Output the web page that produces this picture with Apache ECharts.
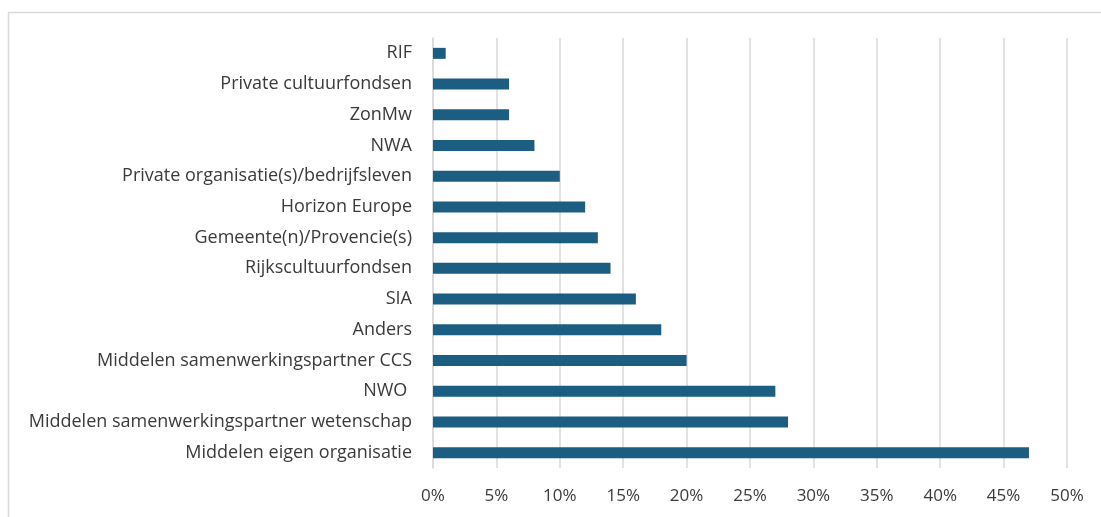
<!DOCTYPE html>
<html>
<head>
<meta charset="utf-8">
<script src="https://cdn.jsdelivr.net/npm/echarts@6/dist/echarts.min.js"></script>
<style>
  html, body { margin: 0; padding: 0; background: #fff; }
  #chart { width: 1101px; height: 517px; }
</style>
</head>
<body>
<div id="chart"></div>
<script>
// categories listed bottom to top, as the category axis draws them
var categories = [
    'Middelen eigen organisatie',
    'Middelen samenwerkingspartner wetenschap',
    'NWO ',
    'Middelen samenwerkingspartner CCS',
    'Anders',
    'SIA',
    'Rijkscultuurfondsen',
    'Gemeente(n)/Provencie(s)',
    'Horizon Europe',
    'Private organisatie(s)/bedrijfsleven',
    'NWA',
    'ZonMw',
    'Private cultuurfondsen',
    'RIF'
];
var shares = [47, 28, 27, 20, 18, 16, 14, 13, 12, 10, 8, 6, 6, 1];
var tickStep = 5;
var tickMax = 50;

var font = '"Open Sans", "Noto Sans", sans-serif';
var chart = echarts.init(document.getElementById('chart'));

chart.setOption({
    animation: false,
    backgroundColor: '#fff',
    graphic: [{
        type: 'rect',
        shape: { x: 8.5, y: 12.5, width: 1110, height: 520 },
        style: { fill: 'none', stroke: '#d9d9d9', lineWidth: 1.5 }
    }],
    grid: { left: 433, right: 34, top: 38, bottom: 49, containLabel: false },
    xAxis: {
        type: 'value',
        min: 0,
        max: tickMax,
        interval: tickStep,
        axisLine: { show: false },
        axisTick: { show: false },
        splitLine: { lineStyle: { color: '#d9d9d9', width: 1.5 } },
        axisLabel: {
            formatter: '{value}%',
            color: '#3a3a3a',
            fontFamily: font,
            fontSize: 17,
            margin: 20
        }
    },
    yAxis: {
        type: 'category',
        data: categories,
        axisLine: { show: true, lineStyle: { color: '#d9d9d9', width: 1.5 } },
        axisTick: { show: false },
        axisLabel: {
            color: '#3a3a3a',
            fontFamily: font,
            fontSize: 18,
            margin: 21
        }
    },
    series: [{
        type: 'bar',
        data: shares,
        barWidth: 11,
        itemStyle: { color: '#1b5e82' }
    }]
});
</script>
</body>
</html>
